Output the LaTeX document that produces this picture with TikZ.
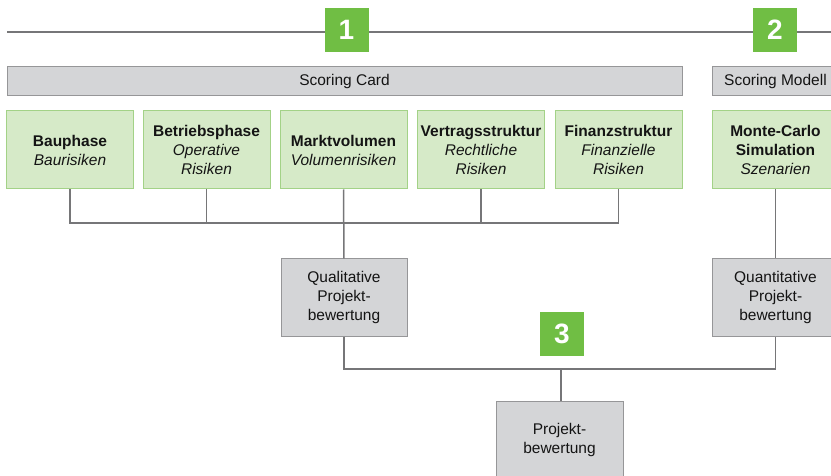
\documentclass[tikz,border=0pt]{standalone}
\usepackage{fontspec}
\setmainfont{Liberation Sans}
\definecolor{boxgreen}{RGB}{214,234,200}
\definecolor{edgegreen}{RGB}{163,210,135}
\definecolor{boxgray}{RGB}{212,213,215}
\definecolor{edgegray}{RGB}{150,150,152}
\definecolor{numgreen}{RGB}{112,190,68}
\definecolor{linegray}{RGB}{118,118,120}
\definecolor{textdark}{RGB}{20,20,20}
\begin{document}
\begin{tikzpicture}[x=1pt,y=-1pt,
  every node/.style={text=textdark,font=\fontsize{15.5}{19}\selectfont,inner sep=0pt},
  riskbox/.style={draw=edgegreen,fill=boxgreen,line width=1pt,minimum width=127pt,minimum height=78pt,align=center},
  evalbox/.style={draw=edgegray,fill=boxgray,line width=1pt,minimum width=126pt,minimum height=77pt,align=center},
  barbox/.style={draw=edgegray,fill=boxgray,line width=1pt,minimum height=29pt},
  numbox/.style={fill=numgreen,text=white,minimum size=44pt,font=\fontsize{28}{28}\selectfont\bfseries},
  link/.style={draw=linegray,line width=1.5pt}]
\useasboundingbox (0,0) rectangle (831,476);
\clip (0,0) rectangle (831,476);
% time line
\coordinate (tl) at (7,32);
\coordinate (tr) at (840,32);
\draw[link] (tl) -- (tr);
\node[numbox] (n1) at (346.5,30) {1};
\node[numbox] (n2) at (775,30) {2};
% bars
\node[barbox,minimum width=675pt] (card) at (344.5,81.5) {Scoring Card};
\node[barbox,minimum width=127pt] (modell) at (775.5,81.5) {Scoring Modell};
% risk boxes
\node[riskbox] (bau) at (70,150) {\textbf{Bauphase}\\\textit{Baurisiken}};
\node[riskbox] (betrieb) at (206.5,150) {\textbf{Betriebsphase}\\\textit{Operative}\\\textit{Risiken}};
\node[riskbox] (markt) at (343.5,150) {\textbf{Marktvolumen}\\\textit{Volumenrisiken}};
\node[riskbox] (vertrag) at (481,150) {\textbf{Vertragsstruktur}\\\textit{Rechtliche}\\\textit{Risiken}};
\node[riskbox] (finanz) at (618.5,150) {\textbf{Finanzstruktur}\\\textit{Finanzielle}\\\textit{Risiken}};
\node[riskbox] (monte) at (775.5,150) {\textbf{Monte-Carlo}\\\textbf{Simulation}\\\textit{Szenarien}};
% evaluation
\node[evalbox] (quali) at (344,297.5) {Qualitative\\Projekt-\\bewertung};
\node[evalbox,minimum width=127pt] (quanti) at (775.5,297.5) {Quantitative\\Projekt-\\bewertung};
\node[evalbox,minimum width=127pt] (projekt) at (559.5,439.5) {Projekt-\\bewertung};
\node[numbox] (n3) at (562,334) {3};
% connectors
\coordinate (j1) at (343.5,223);
\coordinate (j2) at (561,369);
\draw[link] (bau.south) |- (j1) -| (finanz.south);
\draw[link] (betrieb.south) -- (betrieb.south |- j1);
\draw[link] (vertrag.south) -- (vertrag.south |- j1);
\draw[link] (markt.south) -- (quali.north);
\draw[link] (monte.south) -- (quanti.north);
\draw[link] (quali.south) |- (j2) -| (quanti.south);
\draw[link] (j2) -- (j2 |- projekt.north);
\end{tikzpicture}
\end{document}
